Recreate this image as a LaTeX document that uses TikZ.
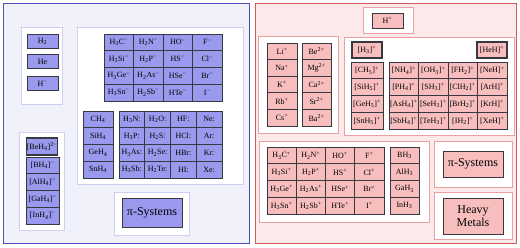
\documentclass[tikz,border=0pt]{standalone}
\usepackage{fontspec}
\setmainfont{Liberation Serif}
\usepackage{tikz}
\usetikzlibrary{positioning}

\definecolor{bluecellfill}{HTML}{9999EE}
\definecolor{redcellfill}{HTML}{F8BEBE}
\definecolor{cellline}{HTML}{383840}
\definecolor{bluepanel}{HTML}{F1F1FB}
\definecolor{blueframe}{HTML}{4F4FC0}
\definecolor{bluegroup}{HTML}{CFCFF0}
\definecolor{redpanel}{HTML}{FCE9E9}
\definecolor{redframe}{HTML}{D05A5A}
\definecolor{redgroup}{HTML}{E8A0A0}

\newcommand{\lo}[1]{\textsubscript{#1}}
\newcommand{\hi}[1]{\textsuperscript{#1}}

\begin{document}
\begin{tikzpicture}[x=1pt, y=-1pt,
    cell/.style={draw=cellline, line width=0.8pt, inner sep=0pt,
                 minimum height=16.75pt, font=\fontsize{8}{9}\selectfont},
    bluecell/.style={cell, fill=bluecellfill},
    redcell/.style={cell, fill=redcellfill},
    bluegroupbox/.style={draw=bluegroup, fill=white, line width=1pt},
    redgroupbox/.style={draw=redgroup, fill=white, line width=1pt},
    bigbox/.style={draw=cellline, line width=0.9pt, inner sep=0pt, align=center,
                   font=\fontsize{12}{12.5}\selectfont}]
\useasboundingbox (0,0) rectangle (520,247);

% panels
\draw[blueframe, fill=bluepanel, line width=0.8pt] (3,3) rectangle (249,243);
\draw[redframe, fill=redpanel, line width=0.8pt] (255,3) rectangle (516,243);

% left group boxes
\draw[bluegroupbox] (21,27) rectangle (62,104);
\draw[bluegroupbox] (77,27) rectangle (243,184);
\draw[bluegroupbox] (19,132) rectangle (64,230);
\draw[bluegroupbox] (114,192) rectangle (189,235);

% H2, He, H-
\node[bluecell, minimum width=31pt, minimum height=14pt] (h2) at (42.5,41.5) {H\lo{2}};
\node[bluecell, minimum width=31pt, minimum height=14pt] (he) at (42.5,61.5) {He};
\node[bluecell, minimum width=31pt, minimum height=14pt] (hminus) at (42.5,83.5) {H\hi{−}};

% anions
\foreach \row [count=\r] in {
    {H\lo{3}C\hi{−}, H\lo{2}N\hi{−}, HO\hi{−}, F\hi{−}},
    {H\lo{3}Si\hi{−}, H\lo{2}P\hi{−}, HS\hi{−}, Cl\hi{−}},
    {H\lo{3}Ge\hi{−}, H\lo{2}As\hi{−}, HSe\hi{−}, Br\hi{−}},
    {H\lo{3}Sn\hi{−}, H\lo{2}Sb\hi{−}, HTe\hi{−}, I\hi{−}}}
  \foreach \lab [count=\c] in \row
    \node[bluecell, minimum width=29.5pt] (an-\r-\c)
      at ({104+29.5*(\c-0.5)}, {34+16.75*(\r-0.5)}) {\lab};

% tetrel hydrides
\foreach \lab [count=\r] in {CH\lo{4}, SiH\lo{4}, GeH\lo{4}, SnH\lo{4}}
  \node[bluecell, minimum width=30pt] (th-\r) at (98, {111+16.75*(\r-0.5)}) {\lab};

% lone pair donors
\foreach \row [count=\r] in {
    {H\lo{3}N:, H\lo{2}O:, HF:, Ne:},
    {H\lo{3}P:, H\lo{2}S:, HCl:, Ar:},
    {H\lo{3}As:, H\lo{2}Se:, HBr:, Kr:},
    {H\lo{3}Sb:, H\lo{2}Te:, HI:, Xe:}}
  \foreach \lab [count=\c] in \row
    \node[bluecell, minimum width=25.75pt] (lp-\r-\c)
      at ({119+25.75*(\c-0.5)}, {111+16.75*(\r-0.5)}) {\lab};

% tetrahydrido anions
\node[bluecell, line width=1.1pt, minimum width=30pt, minimum height=17pt] (beh) at (42,146.5) {[BeH\lo{4}]\hi{2−}};
\foreach \lab [count=\r] in {[BH\lo{4}]\hi{−}, [AlH\lo{4}]\hi{−}, [GaH\lo{4}]\hi{−}, [InH\lo{4}]\hi{−}}
  \node[bluecell, minimum width=33pt] (tha-\r) at (42.5, {157+16.75*(\r-0.5)}) {\lab};

\node[bigbox, fill=bluecellfill, minimum width=60pt, minimum height=29pt] (pileft) at (152,212.5) {π-Systems};

% right group boxes
\draw[redgroupbox] (363,7) rectangle (413,33);
\draw[redgroupbox] (258,36) rectangle (338,133);
\draw[redgroupbox] (344,37) rectangle (514,135);
\draw[redgroupbox] (259,141) rectangle (429,222);
\draw[redgroupbox] (434,141) rectangle (512,187);
\draw[redgroupbox] (434,192) rectangle (512,239);

\node[redcell, line width=1pt, minimum width=31pt, minimum height=15pt] (hplus) at (387.5,20.5) {H\hi{+}};

% metal cations
\foreach \lab [count=\r] in {Li\hi{+}, Na\hi{+}, K\hi{+}, Rb\hi{+}, Cs\hi{+}}
  \node[redcell, minimum width=30pt, minimum height=16.6pt] (alk-\r) at (282, {43+16.6*(\r-0.5)}) {\lab};
\foreach \lab [count=\r] in {Be\hi{2+}, Mg\hi{2+}, Ca\hi{2+}, Sr\hi{2+}, Ba\hi{2+}}
  \node[redcell, minimum width=29pt, minimum height=16.6pt] (ae-\r) at (316.5, {43+16.6*(\r-0.5)}) {\lab};

% protonated species
\node[redcell, line width=1.1pt, minimum width=30pt, minimum height=16pt] (h3) at (367,50) {[H\lo{3}]\hi{+}};
\node[redcell, line width=1.1pt, minimum width=30pt, minimum height=16pt] (heh) at (492,50) {[HeH]\hi{+}};
\foreach \lab [count=\r] in {[CH\lo{5}]\hi{+}, [SiH\lo{5}]\hi{+}, [GeH\lo{5}]\hi{+}, [SnH\lo{5}]\hi{+}}
  \node[redcell, minimum width=32pt] (ph-\r) at (367, {62+16.75*(\r-0.5)}) {\lab};
\foreach \row [count=\r] in {
    {[NH\lo{4}]\hi{+}, [OH\lo{3}]\hi{+}, [FH\lo{2}]\hi{+}, [NeH]\hi{+}},
    {[PH\lo{4}]\hi{+}, [SH\lo{3}]\hi{+}, [ClH\lo{2}]\hi{+}, [ArH]\hi{+}},
    {[AsH\lo{4}]\hi{+}, [SeH\lo{3}]\hi{+}, [BrH\lo{2}]\hi{+}, [KrH]\hi{+}},
    {[SbH\lo{4}]\hi{+}, [TeH\lo{3}]\hi{+}, [IH\lo{2}]\hi{+}, [XeH]\hi{+}}}
  \foreach \lab [count=\c] in \row
    \node[redcell, minimum width=29.5pt] (pr-\r-\c)
      at ({389+29.5*(\c-0.5)}, {62+16.75*(\r-0.5)}) {\lab};

% cations
\foreach \row [count=\r] in {
    {H\lo{3}C\hi{+}, H\lo{2}N\hi{+}, HO\hi{+}, F\hi{+}},
    {H\lo{3}Si\hi{+}, H\lo{2}P\hi{+}, HS\hi{+}, Cl\hi{+}},
    {H\lo{3}Ge\hi{+}, H\lo{2}As\hi{+}, HSe\hi{+}, Br\hi{+}},
    {H\lo{3}Sn\hi{+}, H\lo{2}Sb\hi{+}, HTe\hi{+}, I\hi{+}}}
  \foreach \lab [count=\c] in \row
    \node[redcell, minimum width=29.25pt] (ca-\r-\c)
      at ({267+29.25*(\c-0.5)}, {147+16.75*(\r-0.5)}) {\lab};
\foreach \lab [count=\r] in {BH\lo{3}, AlH\lo{3}, GaH\lo{3}, InH\lo{3}}
  \node[redcell, minimum width=29pt] (tr-\r) at (404.5, {147+16.75*(\r-0.5)}) {\lab};

\node[bigbox, fill=redcellfill, minimum width=60pt, minimum height=26pt] (piright) at (473,164) {π-Systems};
\node[bigbox, fill=redcellfill, minimum width=60pt, minimum height=36pt] (heavy) at (473,216) {Heavy\\Metals};
\end{tikzpicture}
\end{document}
